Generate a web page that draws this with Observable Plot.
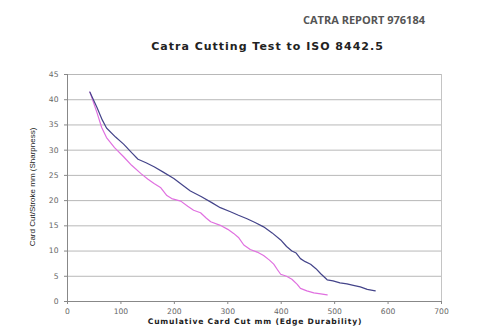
<!DOCTYPE html>
<html>
<head>
<meta charset="utf-8">
<script src="https://cdn.jsdelivr.net/npm/d3@7"></script>
<script src="https://cdn.jsdelivr.net/npm/@observablehq/plot@0.6"></script>
<style>
  html, body { margin: 0; padding: 0; background: #fff; }
  #wrap { position: relative; width: 481px; height: 329px; overflow: hidden; }
  #report { position: absolute; left: 303px; top: 12px; font-family: "Open Sans", "Noto Sans", sans-serif; font-weight: bold; font-size: 11px; color: #555; white-space: nowrap; }
  #title { position: absolute; left: 0; width: 535px; top: 40px; text-align: center; font-family: "DejaVu Sans", Verdana, sans-serif; font-weight: bold; font-size: 11px; letter-spacing: 1px; color: #222; white-space: nowrap; }
  #ylab { position: absolute; left: 32px; top: 187px; transform: translate(-50%, -50%) rotate(-90deg); font-family: "Liberation Sans Narrow", "Liberation Sans", Arial, sans-serif; font-size: 8px; color: #222; white-space: nowrap; }
  #xlab { position: absolute; left: 0; width: 510px; top: 317px; text-align: center; font-family: "DejaVu Sans", Verdana, sans-serif; font-weight: bold; font-size: 7.6px; letter-spacing: 0.8px; color: #222; white-space: nowrap; }
  #chart { position: absolute; left: 0; top: 0; }
</style>
</head>
<body>
<div id="wrap">
  <div id="chart"></div>
  <div id="report">CATRA REPORT 976184</div>
  <div id="title">Catra Cutting Test to ISO 8442.5</div>
  <div id="ylab">Card Cut/Stroke mm (Sharpness)</div>
  <div id="xlab">Cumulative Card Cut mm (Edge Durability)</div>
</div>
<script>
const xTicks = [0, 100, 200, 300, 400, 500, 600, 700];
const yTicks = [0, 5, 10, 15, 20, 25, 30, 35, 40, 45];

const blueX = [42, 55, 65, 73, 90, 105, 120, 132, 147, 162, 180, 199, 215, 230, 250, 270, 286, 305, 320, 336, 352, 367, 383, 399, 410, 420, 428, 436, 445, 455, 465, 474, 486, 497, 510, 523, 535, 548, 561, 576];
const blueY = [41.5, 38.5, 36, 34.4, 32.6, 31.2, 29.5, 28.2, 27.5, 26.7, 25.6, 24.4, 23.1, 21.9, 20.8, 19.6, 18.6, 17.8, 17.1, 16.4, 15.6, 14.8, 13.6, 12.2, 10.9, 10.0, 9.6, 8.5, 7.9, 7.4, 6.5, 5.5, 4.3, 4.1, 3.7, 3.5, 3.2, 2.9, 2.4, 2.1];

const pinkX = [42, 55, 64, 73, 88, 105, 120, 137, 150, 162, 174, 186, 195, 212, 225, 236, 249, 260, 268, 286, 300, 311, 320, 330, 342, 355, 367, 378, 386, 393, 399, 410, 420, 430, 436, 448, 461, 474, 486];
const pinkY = [41.5, 37.5, 34.5, 32.5, 30.5, 28.7, 27.0, 25.4, 24.3, 23.4, 22.6, 21.0, 20.4, 19.9, 18.9, 18.1, 17.6, 16.5, 15.8, 15.1, 14.3, 13.5, 12.7, 11.2, 10.3, 9.8, 9.1, 8.2, 7.4, 6.3, 5.4, 5.0, 4.4, 3.4, 2.6, 2.1, 1.7, 1.5, 1.3];

const blue = blueX.map((x, i) => ({x, y: blueY[i]}));
const pink = pinkX.map((x, i) => ({x, y: pinkY[i]}));

const chart = Plot.plot({
  width: 481,
  height: 329,
  marginLeft: 67,
  marginRight: 40,
  marginTop: 74,
  marginBottom: 28,
  style: {fontFamily: "'DejaVu Sans', Verdana, sans-serif", fontSize: "7.6px", color: "#666", background: "#fff"},
  x: {domain: [0, 700], ticks: xTicks, tickSize: 3, tickPadding: 4, label: null},
  y: {domain: [0, 45], ticks: yTicks, tickSize: 3, tickPadding: 6, label: null},
  marks: [
    Plot.gridY(yTicks, {stroke: "#b8b8b8", strokeOpacity: 1, strokeWidth: 1}),
    Plot.ruleX([700], {stroke: "#c4c4c4", strokeWidth: 1}),
    Plot.ruleX([0], {stroke: "#888", strokeWidth: 1}),
    Plot.ruleY([0], {stroke: "#888", strokeWidth: 1}),
    Plot.axisX({ticks: xTicks, tickSize: 3, tickPadding: 4, stroke: "#888", fill: "#666", label: null}),
    Plot.axisY({ticks: yTicks, tickSize: 3, tickPadding: 6, stroke: "#888", fill: "#666", label: null}),
    Plot.line(pink, {x: "x", y: "y", stroke: "#e070e0", strokeWidth: 1.2}),
    Plot.line(blue, {x: "x", y: "y", stroke: "#44448a", strokeWidth: 1.2})
  ]
});
document.getElementById("chart").appendChild(chart);
</script>
</body>
</html>
